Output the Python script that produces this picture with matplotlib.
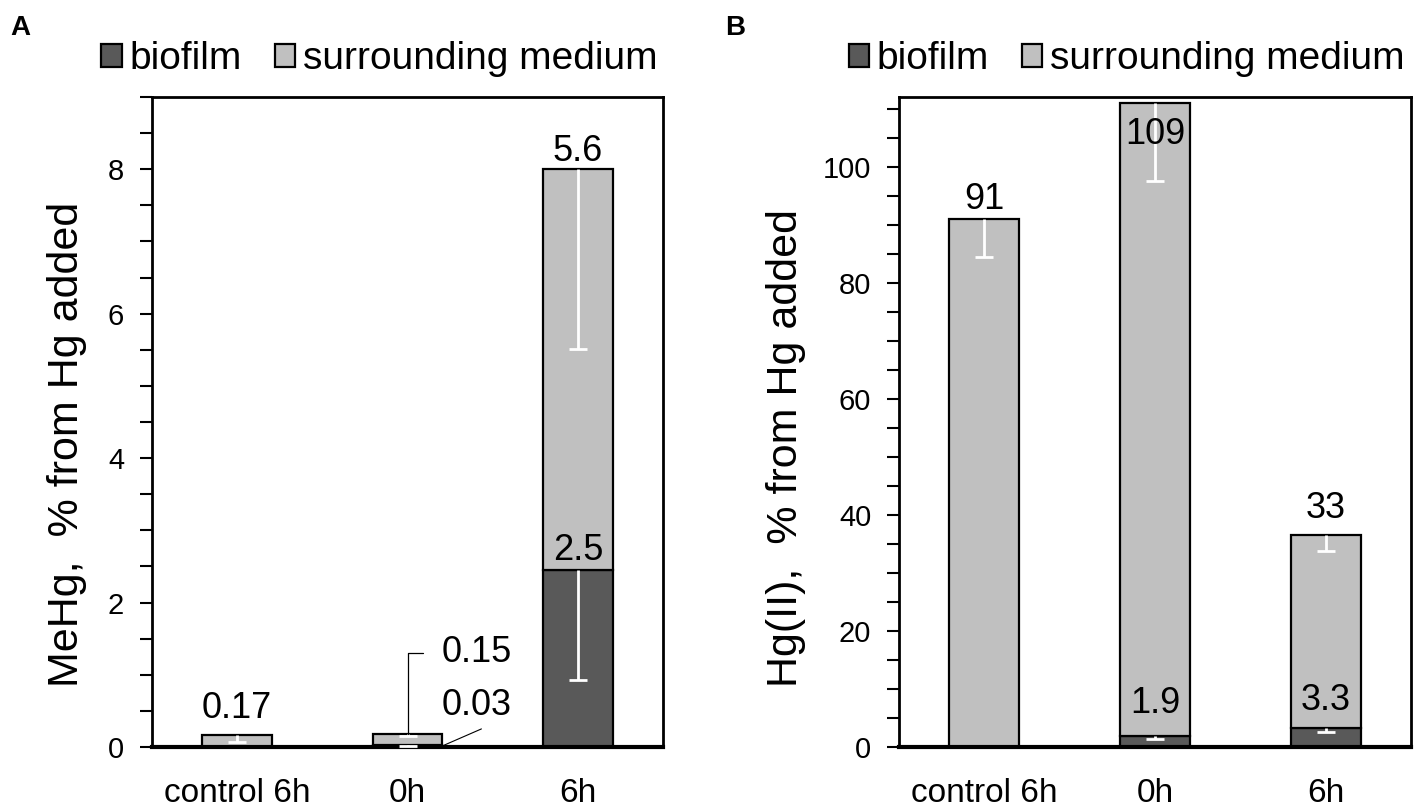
import matplotlib
matplotlib.use("Agg")
import matplotlib.pyplot as plt
import numpy as np
from matplotlib.ticker import MultipleLocator

plt.rcParams['font.family'] = ['Liberation Sans', 'DejaVu Sans']

# ---------------- data ----------------
categories = ["control 6h", "0h", "6h"]

# Panel A: MeHg
a_biofilm = [0.0, 0.03, 2.45]
a_medium = [0.17, 0.15, 5.55]
a_biofilm_err = [0.0, 0.02, 1.52]
a_medium_err = [0.10, 0.03, 2.49]
a_bio_labels = [None, "0.03", "2.5"]
a_med_labels = ["0.17", "0.15", "5.6"]

# Panel B: Hg(II)
b_biofilm = [0.0, 1.9, 3.3]
b_medium = [91.0, 109.0, 33.2]
b_biofilm_err = [0.0, 0.6, 0.7]
b_medium_err = [6.5, 13.3, 2.8]
b_bio_labels = [None, "1.9", "3.3"]
b_med_labels = ["91", "109", "33"]

DARK = "#595959"
LIGHT = "#c0c0c0"
W = 0.41
FS_TICK = 21
FS_XT = 24
FS_LAB = 26
FS_LEG = 28
FS_YL = 31

fig = plt.figure(figsize=(14.21, 8.08), dpi=100)
axA = fig.add_axes([152/1421, 61/808, 511/1421, 650/808])
axB = fig.add_axes([899/1421, 61/808, 512/1421, 650/808])


def draw(ax, bio, med, bio_err, med_err, ylim, major, minor):
    x = np.arange(len(categories))
    bio = np.array(bio); med = np.array(med)
    ax.bar(x, bio, W, color=DARK, edgecolor="black", linewidth=1.6, label="biofilm", zorder=2)
    ax.bar(x, med, W, bottom=bio, color=LIGHT, edgecolor="black", linewidth=1.6,
           label="surrounding medium", zorder=2)
    # downward-only white error bars
    for tops, errs in [(bio, bio_err), (bio + med, med_err)]:
        errs = np.array(errs)
        m = errs > 0
        ax.errorbar(x[m], tops[m], yerr=[errs[m], np.zeros(m.sum())], fmt="none",
                    ecolor="white", elinewidth=2, capsize=0, zorder=3)
        ax.plot(x[m], (tops - errs)[m], ls="none", marker="_", markersize=13,
                mew=2, color="white", zorder=3)
    ax.set_xlim(-0.5, 2.5)
    ax.set_ylim(0, ylim)
    ax.yaxis.set_major_locator(MultipleLocator(major))
    ax.yaxis.set_minor_locator(MultipleLocator(minor))
    ax.set_xticks(x)
    ax.set_xticklabels(categories, fontsize=FS_XT)
    ax.tick_params(axis="x", length=0, pad=22)
    ax.tick_params(axis="y", which="both", direction="out", length=9, width=1.5,
                   labelsize=FS_TICK, pad=11)
    for s in ["top", "right", "left"]:
        ax.spines[s].set_linewidth(2)
    ax.spines["bottom"].set_linewidth(3)
    ax.legend(loc="center", bbox_to_anchor=(0.445, 1.058), ncol=2, frameon=False,
              fontsize=FS_LEG, handlelength=0.52, handleheight=0.52, handletextpad=0.2,
              columnspacing=0.85, borderaxespad=0)
    return x, bio, med


def lab(ax, x, y, s, dy, va="baseline", ha="center", dx=0):
    ax.annotate(s, (x, y), xytext=(dx, dy), textcoords="offset pixels", ha=ha,
                va=va, fontsize=FS_LAB, zorder=5)


# Panel A
x, bio, med = draw(axA, a_biofilm, a_medium, a_biofilm_err, a_medium_err, 9, 2, 0.5)
axA.set_ylabel("MeHg,  % from Hg added", fontsize=FS_YL)
axA.yaxis.set_label_coords(-0.128, 0.466)
lab(axA, x[0], bio[0] + med[0], a_med_labels[0], dy=17)
lab(axA, x[2], bio[2] + med[2], a_med_labels[2], dy=8)
lab(axA, x[2], bio[2], a_bio_labels[2], dy=10)
# leader-line labels for 0h
axA.annotate(a_med_labels[1], (x[1], bio[1] + med[1]), xytext=(34, 72),
             textcoords="offset pixels", ha="left", va="baseline", fontsize=FS_LAB,
             arrowprops=dict(arrowstyle="-", color="black", lw=0.9, shrinkA=11, shrinkB=0,
                             connectionstyle="angle,angleA=0,angleB=90,rad=0"))
lab(axA, x[1], bio[1], a_bio_labels[1], dy=30, ha="left", dx=34)
axA.annotate("", xy=(x[1] + W/2, bio[1]/2), xytext=(39, 17), textcoords="offset pixels",
             arrowprops=dict(arrowstyle="-", color="black", lw=0.8, shrinkA=0, shrinkB=0))

# Panel B
x, bio, med = draw(axB, b_biofilm, b_medium, b_biofilm_err, b_medium_err, 112, 20, 5)
axB.set_ylabel("Hg(II),  % from Hg added", fontsize=FS_YL)
axB.yaxis.set_label_coords(-0.182, 0.46)
lab(axB, x[0], bio[0] + med[0], b_med_labels[0], dy=10)
lab(axB, x[1], bio[1] + med[1], b_med_labels[1], dy=-41)
lab(axB, x[2], bio[2] + med[2], b_med_labels[2], dy=17)
lab(axB, x[1], bio[1], b_bio_labels[1], dy=23)
lab(axB, x[2], bio[2], b_bio_labels[2], dy=18)

fig.text(20/1421, 1 - 28/808, "A", fontsize=20, fontweight="bold", ha="center", va="center")
fig.text(735/1421, 1 - 28/808, "B", fontsize=20, fontweight="bold", ha="center", va="center")

fig.savefig("out.png", dpi=100, facecolor="white")
